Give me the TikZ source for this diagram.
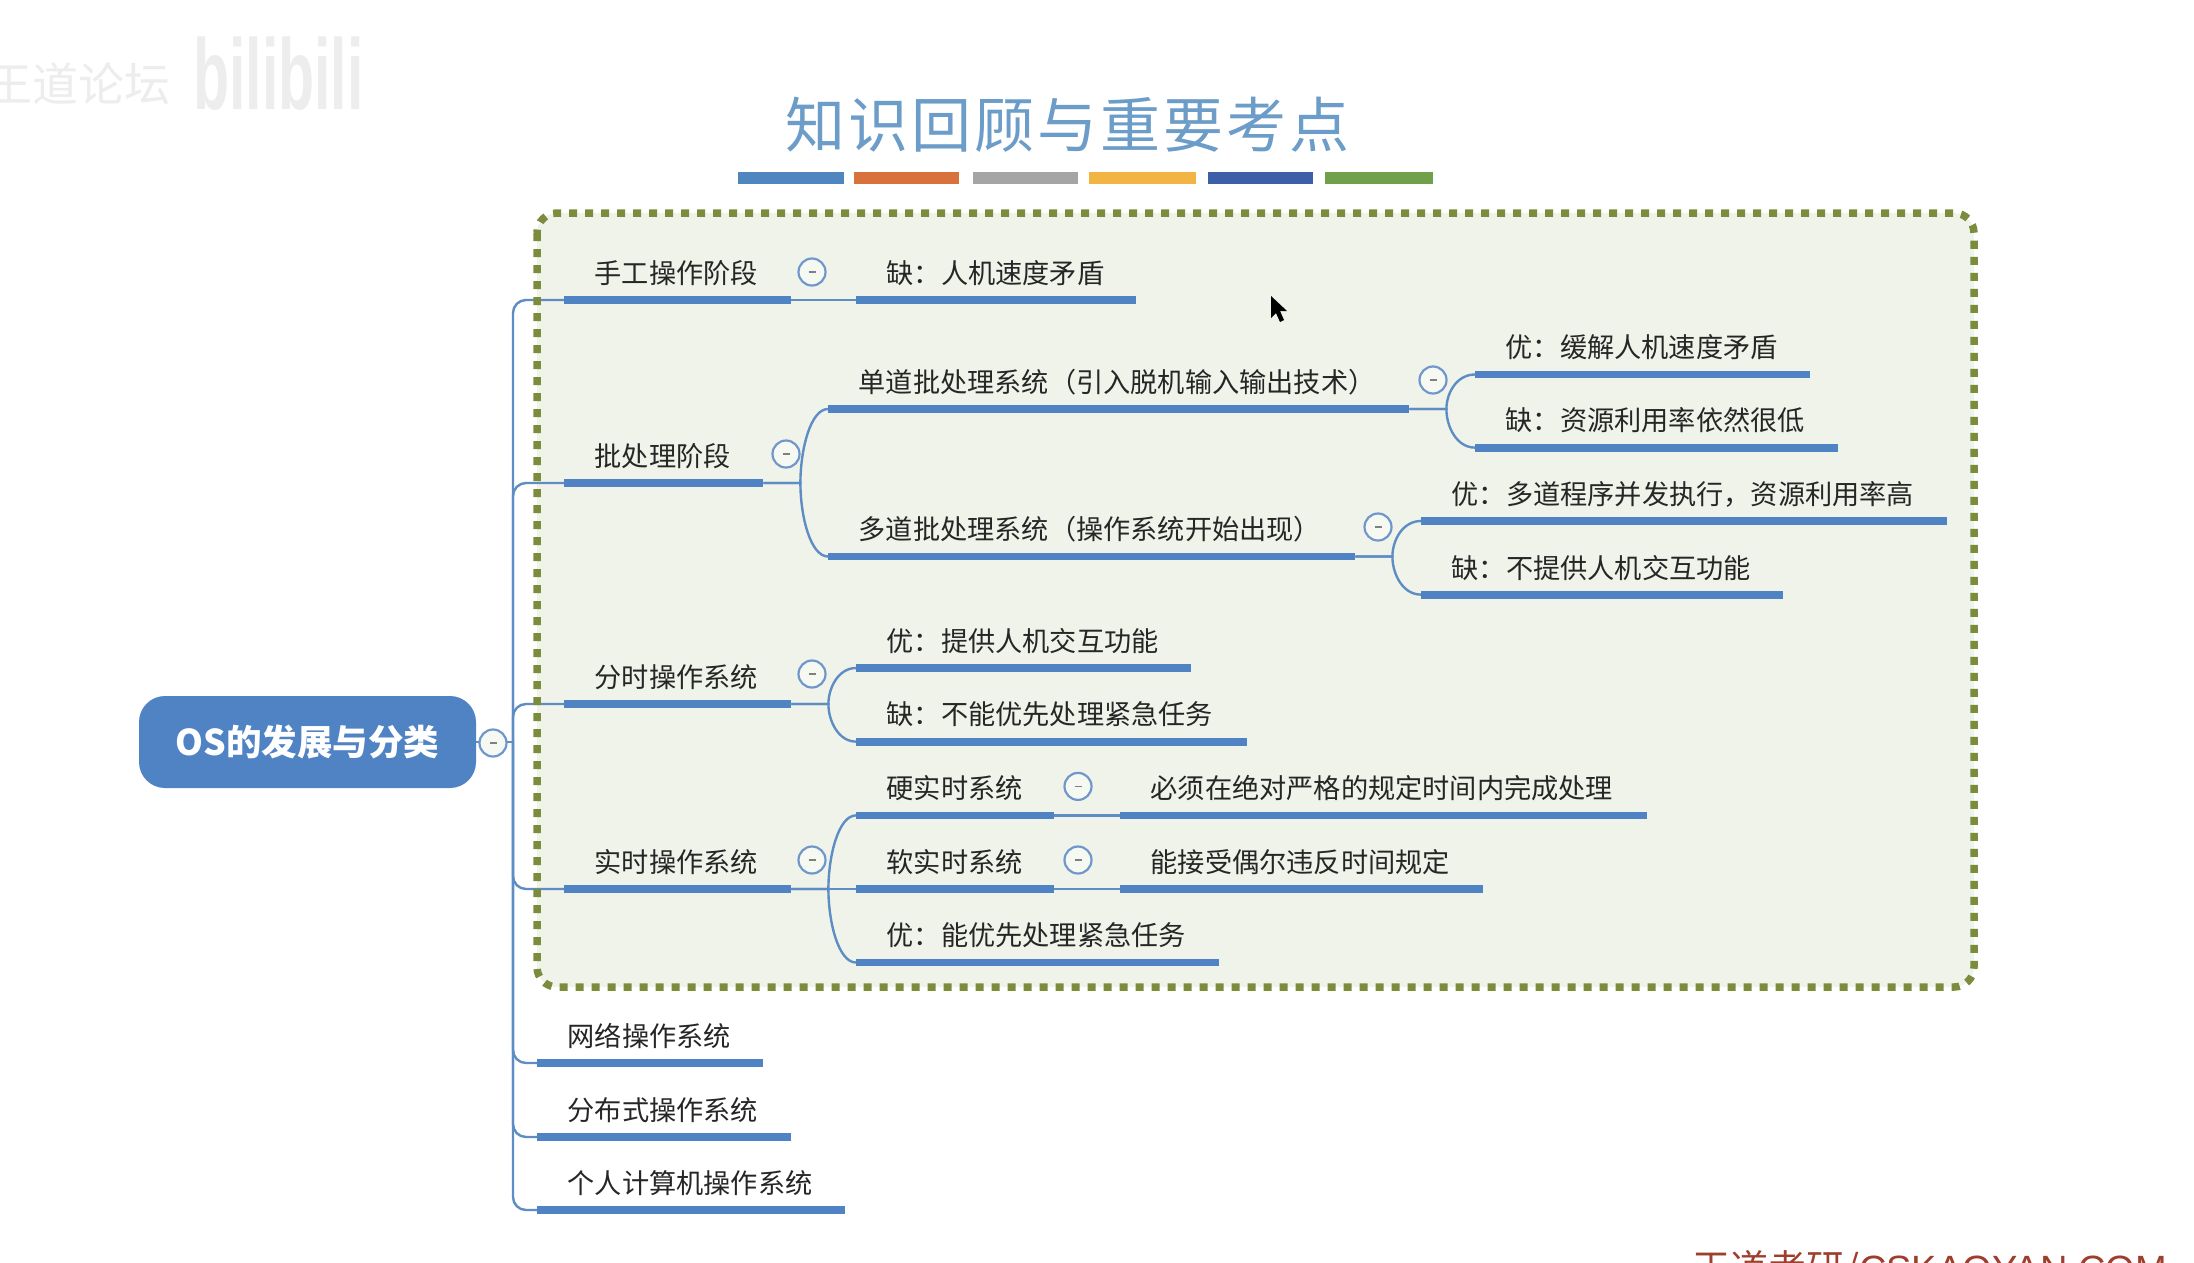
\documentclass[tikz,border=0pt]{standalone}
\usepackage{fontspec}
\setmainfont{Noto Sans CJK SC}
\newfontfamily\latinsans{Liberation Sans}
\usetikzlibrary{calc}
\definecolor{barblue}{HTML}{4F83C4}
\definecolor{linkblue}{HTML}{5E8DC4}
\definecolor{ringblue}{HTML}{6F97CC}
\definecolor{titleblue}{HTML}{6C9CC8}
\definecolor{boxfill}{HTML}{F0F3EA}
\definecolor{boxdash}{HTML}{7B8C3C}
\definecolor{wm}{HTML}{EDEDED}
\definecolor{redtext}{HTML}{9E3F2D}
\tikzset{
  bar/.style={fill=barblue,draw=none,inner sep=0pt,minimum height=7.8pt,anchor=west,rectangle},
  txt/.style={inner sep=0pt,anchor=west,text=black!85,font=\fontsize{27.2}{30}\selectfont},
  conn/.style={draw=linkblue,line width=2.4pt},
  ringnode/.style={circle,draw=ringblue,line width=2.2pt,fill=boxfill!60!white,inner sep=0pt,minimum size=27pt,
    path picture={\draw[line width=1.6pt,draw=gray] ([xshift=-3.5pt]path picture bounding box.center) -- ([xshift=3.5pt]path picture bounding box.center);}},
  strip/.style={inner sep=0pt,minimum height=12pt,anchor=west,rectangle,draw=none}
}
% name, x1, x2, y, text
\newcommand{\mmitem}[5]{%
  \node[bar,minimum width={(#3-#2)*1pt}] (#1) at (#2,#4) {};
  \node[txt] (#1T) at ({#2+30.5},{#4-27}) {#5};
}
\newcommand{\mmring}[3]{\node[ringnode] (#1) at (#2,#3) {};}
% parent, child
\newcommand{\mmbranch}[2]{%
  \coordinate (J) at ($(#1.east)+(37,0)$);
  \coordinate (K) at (J|-#2.west);
  \draw[conn] (#1.east) -- (J) .. controls ($(J)!0.45!(K)$) and ($(K)+(10,0)$) .. (#2.west);
}
\begin{document}
\begin{tikzpicture}[x=1pt,y=-1pt]
\useasboundingbox (0,0) rectangle (2194,1262);
\fill[white] (0,0) rectangle (2194,1262);
% watermark
\begin{scope}
\clip (0,0) rectangle (2194,1262);
\node[anchor=east,inner sep=0pt,text=wm,font=\fontsize{46}{50}\selectfont] (wmA) at (171,84) {王道论坛};
\node[anchor=west,inner sep=0pt,text=wm,yscale=1.7,font=\latinsans\bfseries\fontsize{59}{62}\selectfont] (wmB) at (193,74) {bilibili};
\node[anchor=west,inner sep=0pt,text=redtext,font=\fontsize{38}{42}\selectfont] (brand) at (1692,1270) {王道考研/{\latinsans CSKAOYAN.COM}};
\end{scope}
% title
\node[inner sep=0pt,text=titleblue,font=\fontsize{60}{66}\selectfont] (title) at (1067,125) {知\hspace{3pt}识\hspace{3pt}回\hspace{3pt}顾\hspace{3pt}与\hspace{3pt}重\hspace{3pt}要\hspace{3pt}考\hspace{3pt}点};
% colour strips
\foreach \n/\a/\b/\c in {sa/738/844/4F86C0,sb/854/959/D9713C,sc/973/1078/A5A5A5,sd/1089/1196/F2B544,se/1208/1313/3C5FA8,sf/1325/1433/70A04A}{
  \definecolor{stripc}{HTML}{\c}
  \node[strip,fill=stripc,minimum width={(\b-\a)*1pt}] (\n) at (\a,177.5) {};
}
% dotted frame
\fill[boxfill,rounded corners=20pt] (537,213) rectangle (1974,987);
% root
\node[fill=barblue,rounded corners=26pt,minimum width=337pt,minimum height=92pt,inner sep=0pt,text=white,
  font=\bfseries\fontsize{35.5}{38}\selectfont] (root) at (307.5,742) {\raisebox{-2.5pt}{OS的发展与分类}};
\coordinate (S) at (513,742);
% items
\mmitem{manual}{564}{791}{300}{手工操作阶段}
\mmitem{manualA}{856}{1136}{300}{缺：人机速度矛盾}
\mmitem{batch}{564}{763}{483}{批处理阶段}
\mmitem{single}{828}{1409}{409}{单道批处理系统（引入脱机输入输出技术）}
\mmitem{singleA}{1475}{1810}{374.5}{优：缓解人机速度矛盾}
\mmitem{singleB}{1475}{1837.5}{447.6}{缺：资源利用率依然很低}
\mmitem{multi}{828}{1355}{556.5}{多道批处理系统（操作系统开始出现）}
\mmitem{multiA}{1421}{1947}{521}{优：多道程序并发执行，资源利用率高}
\mmitem{multiB}{1421}{1783}{594.6}{缺：不提供人机交互功能}
\mmitem{share}{564}{791}{704}{分时操作系统}
\mmitem{shareA}{856}{1191}{668}{优：提供人机交互功能}
\mmitem{shareB}{856}{1246.5}{741.6}{缺：不能优先处理紧急任务}
\mmitem{real}{564}{791}{889}{实时操作系统}
\mmitem{hard}{856}{1054}{815.4}{硬实时系统}
\mmitem{hardA}{1120}{1647}{815.4}{必须在绝对严格的规定时间内完成处理}
\mmitem{soft}{856}{1054}{889}{软实时系统}
\mmitem{softA}{1120}{1483}{889}{能接受偶尔违反时间规定}
\mmitem{realC}{856}{1219}{962.5}{优：能优先处理紧急任务}
\mmitem{net}{537}{763}{1063}{网络操作系统}
\mmitem{dist}{537}{791}{1137}{分布式操作系统}
\mmitem{pc}{537}{845}{1210}{个人计算机操作系统}
% connectors from the root
\draw[conn] (root.east) -- (S);
\foreach \c in {manual,batch,share,real,net,dist,pc}{
  \draw[conn,rounded corners=13pt] (S) |- (\c.west);
}
% frame dashes above the links
\draw[boxdash,line width=7.5pt,dash pattern=on 8pt off 8pt,rounded corners=20pt] (537,213) rectangle (1974,987);
% connectors between topics
\draw[conn] (manual.east) -- (manualA.west);
\mmbranch{batch}{single}
\mmbranch{batch}{multi}
\mmbranch{single}{singleA}
\mmbranch{single}{singleB}
\mmbranch{multi}{multiA}
\mmbranch{multi}{multiB}
\mmbranch{share}{shareA}
\mmbranch{share}{shareB}
\mmbranch{real}{hard}
\mmbranch{real}{realC}
\draw[conn] (real.east) -- (soft.west);
\draw[conn] (hard.east) -- (hardA.west);
\draw[conn] (soft.east) -- (softA.west);
% collapse rings
\mmring{r0}{493}{743}
\mmring{r1}{812}{272}
\mmring{r2}{786}{454}
\mmring{r3}{1433}{380}
\mmring{r4}{1378}{527}
\mmring{r5}{812}{674}
\mmring{r6}{812}{860}
\mmring{r7}{1078}{786.4}
\mmring{r8}{1078}{860}
% pointer
\fill[black] (1271,296) -- (1271,318) -- (1276,313) -- (1280,322) -- (1284,320) -- (1280,311) -- (1287,311) -- cycle;
\end{tikzpicture}
\end{document}
